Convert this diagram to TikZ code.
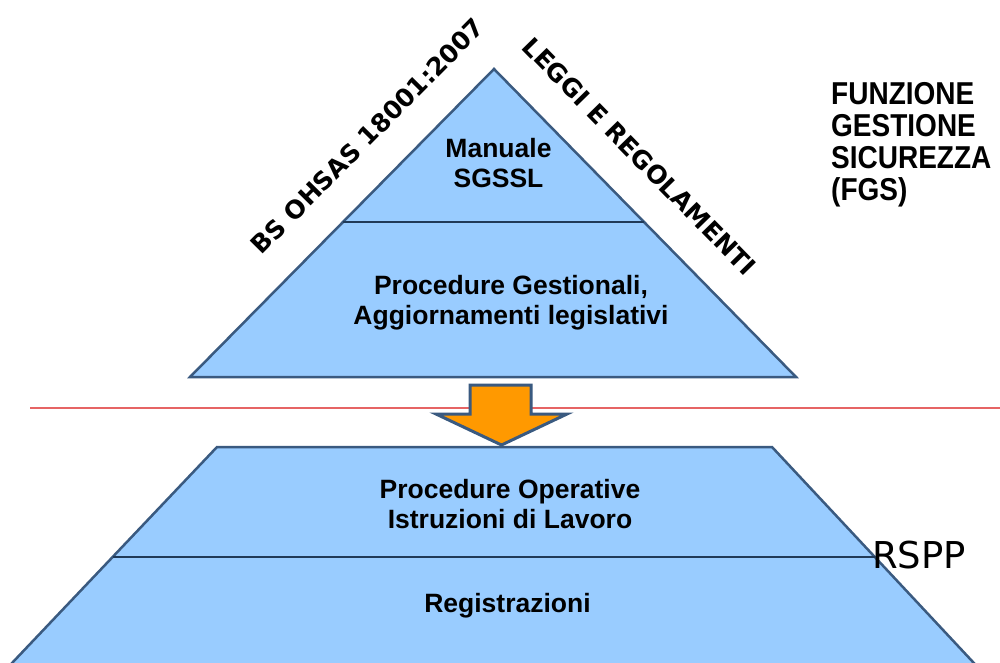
\documentclass[tikz,border=0pt]{standalone}
\usepackage{fontspec}
\setmainfont{Liberation Sans}
\newfontfamily\dvsans{DejaVu Sans}
\usetikzlibrary{calc}
\definecolor{pyrfill}{HTML}{99CCFF}
\definecolor{pyredge}{HTML}{3A5A80}
\definecolor{pyrdiv}{HTML}{203A58}
\definecolor{arrfill}{HTML}{FF9900}
\definecolor{sepred}{RGB}{230,100,100}
\tikzset{
  pyrshape/.style={fill=pyrfill, draw=pyredge, line width=2.5pt, line join=miter},
  divline/.style={draw=pyrdiv, line width=2pt},
  lvltext/.style={font=\bfseries\fontsize{26.5}{30}\selectfont, align=center, inner sep=0pt, anchor=base},
  sidetext/.style={font=\dvsans\bfseries\fontsize{25}{25}\selectfont, inner sep=0pt, anchor=center},
  arrowshape/.style={fill=arrfill, draw=pyredge, line width=3pt, line join=miter},
  sepline/.style={draw=sepred, line width=2pt},
}
\begin{document}
\begin{tikzpicture}[x=1pt,y=-1pt]
\useasboundingbox (0,0) rectangle (1000,662);
\fill[white] (0,0) rectangle (1000,662);
% upper triangle
\coordinate (A) at (494,69);
\coordinate (BL) at (190,377);
\coordinate (BR) at (796,377);
\draw[pyrshape] (A) -- (BR) -- (BL) -- cycle;
\draw[divline] ($(BL)!0.503!(A)$) -- ($(BR)!0.503!(A)$);
% lower trapezoid
\coordinate (TL) at (217,447);
\coordinate (TR) at (772,447);
\coordinate (LL) at (3.5,672);
\coordinate (LR) at (982.3,672);
\draw[pyrshape] (TL) -- (TR) -- (LR) -- (LL) -- cycle;
\draw[divline] ($(TL)!0.489!(LL)$) -- ($(TR)!0.489!(LR)$);
% red separator
\coordinate (R1) at (30,407.5);
\coordinate (R2) at (1000,407.5);
\draw[sepline] (R1) -- (R2);
% arrow
\draw[arrowshape] (470,385) -- (531,385) -- (531,414) -- (567,414) -- (501.5,445) -- (436,414) -- (470,414) -- cycle;
% texts (base anchor = baseline of last line)
\node[lvltext] (man) at (498.5,187) {Manuale\\SGSSL};
\node[lvltext] (pg) at (511,324.5) {Procedure Gestionali,\\Aggiornamenti legislativi};
\node[lvltext] (po) at (510,528.5) {Procedure Operative\\Istruzioni di Lavoro};
\node[lvltext] (reg) at (507.5,612) {Registrazioni};
\node[sidetext, rotate=45.3] (bs) at (367.5,136) {BS OHSAS 18001:2007};
\node[sidetext, rotate=-45.6] (leg) at (639.5,156.5) {LEGGI E REGOLAMENTI};
\node[inner sep=0pt, anchor=base west, font=\dvsans\fontsize{37}{37}\selectfont] (rspp) at (872,568) {RSPP};
\node[inner sep=0pt, anchor=north west, align=left] (fgs) at (831,82)
  {\scalebox{1}[1.13]{\parbox[t]{180pt}{\bfseries\fontsize{28}{28.5}\selectfont FUNZIONE\\GESTIONE\\SICUREZZA\\(FGS)}}};
\end{tikzpicture}
\end{document}
